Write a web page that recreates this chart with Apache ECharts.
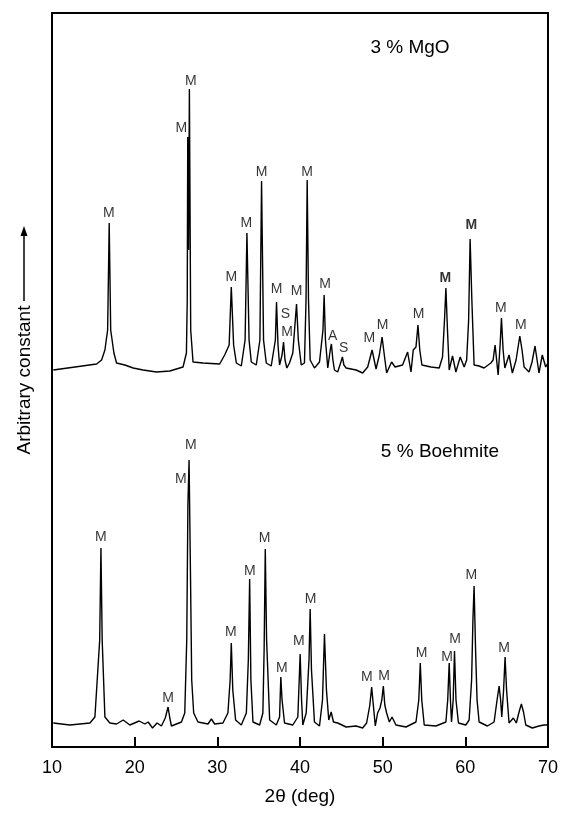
<!DOCTYPE html>
<html>
<head>
<meta charset="utf-8">
<script src="https://cdn.jsdelivr.net/npm/echarts@6/dist/echarts.min.js"></script>
<style>
html,body{margin:0;padding:0;background:#fff}
#chart{width:561px;height:813px}
</style>
</head>
<body>
<div id="chart"></div>
<script>
// 2theta (deg) vs. intensity (arbitrary, offset traces)
var mgoTrace = [[10.16,377],[15.40,383],[16.00,387],[16.40,397],[16.73,417],[16.92,524],[17.10,417],[17.49,394],[17.81,384],[18.81,382],[19.82,379],[21.02,377],[22.64,375],[24.25,376],[25.85,380],[26.26,394],[26.36,447],[26.42,610],[26.52,497],[26.62,658],[26.78,417],[27.06,385],[28.27,384],[30.28,383],[30.89,392],[31.43,402],[31.69,460],[31.97,402],[32.30,384],[32.90,381],[33.36,407],[33.58,514],[33.84,407],[34.11,385],[34.71,382],[35.15,407],[35.35,566],[35.59,407],[35.92,384],[36.52,381],[37.02,407],[37.16,445],[37.34,402],[37.53,382],[37.83,392],[38.01,405],[38.19,387],[38.41,379],[38.73,384],[39.13,394],[39.58,443],[39.80,407],[40.15,382],[40.54,384],[40.73,447],[40.87,567],[41.03,447],[41.23,387],[41.75,379],[42.36,385],[42.78,417],[42.92,452],[43.08,407],[43.36,379],[43.66,397],[43.80,403],[43.98,387],[44.17,377],[44.56,375],[44.95,385],[45.13,390],[45.31,382],[45.58,379],[46.79,377],[47.58,374],[48.19,380],[48.72,397],[49.20,378],[49.60,392],[49.93,410],[50.20,392],[50.48,374],[51.08,385],[51.50,380],[52.41,382],[53.02,395],[53.43,375],[53.70,397],[54.03,400],[54.27,422],[54.49,397],[54.75,382],[55.84,380],[56.84,379],[57.24,390],[57.48,427],[57.65,459],[57.84,417],[58.05,377],[58.45,391],[58.86,375],[59.38,390],[59.86,380],[60.16,387],[60.40,427],[60.58,508],[60.79,447],[61.06,382],[61.67,381],[62.27,379],[63.09,384],[63.36,387],[63.60,402],[63.97,372],[64.21,402],[64.37,429],[64.57,397],[64.78,379],[65.29,392],[65.69,374],[66.14,387],[66.59,411],[66.86,397],[67.11,380],[67.71,375],[68.07,385],[68.43,401],[68.91,374],[69.31,392],[69.72,380],[70.00,384]];

var boehmiteTrace = [[10.16,24],[12.17,22],[14.59,24],[15.19,30],[15.77,107],[15.92,199],[16.07,107],[16.40,30],[17.00,24],[17.81,23],[18.61,27],[19.42,22],[20.54,26],[21.23,23],[21.63,25],[22.16,19],[22.71,24],[23.24,21],[23.70,29],[24.04,40],[24.25,29],[24.45,21],[25.66,25],[26.06,34],[26.30,107],[26.44,242],[26.58,287],[26.76,167],[26.90,67],[27.14,34],[27.66,25],[28.87,23],[29.28,28],[29.68,23],[30.68,24],[31.28,34],[31.55,67],[31.69,104],[31.87,57],[32.21,27],[32.90,22],[33.51,34],[33.75,87],[33.91,168],[34.06,67],[34.31,25],[35.12,22],[35.51,34],[35.66,97],[35.80,198],[35.96,107],[36.33,27],[37.13,22],[37.53,30],[37.68,70],[37.83,47],[38.13,24],[39.13,22],[39.74,30],[40.02,93],[40.19,47],[40.34,22],[40.75,34],[41.09,87],[41.23,138],[41.39,77],[41.75,25],[42.36,21],[42.72,47],[42.96,113],[43.20,57],[43.48,27],[43.77,35],[44.05,25],[44.56,24],[45.58,20],[46.79,21],[47.58,19],[48.06,24],[48.45,42],[48.67,60],[48.87,42],[49.11,21],[49.39,34],[49.68,39],[49.90,47],[50.08,61],[50.26,42],[50.48,34],[50.81,25],[51.13,30],[51.61,22],[52.82,20],[54.03,25],[54.37,47],[54.55,84],[54.73,47],[55.03,22],[56.44,21],[57.65,25],[57.87,47],[58.05,84],[58.20,47],[58.33,25],[58.53,47],[58.69,96],[58.87,47],[59.17,24],[60.06,22],[60.46,27],[60.76,67],[60.92,127],[61.06,161],[61.24,97],[61.42,47],[61.67,25],[62.67,21],[63.48,25],[63.84,47],[64.09,61],[64.27,47],[64.41,30],[64.63,57],[64.81,90],[64.99,57],[65.29,24],[65.81,29],[66.17,24],[66.50,35],[66.78,43],[67.04,35],[67.31,22],[68.11,19],[68.91,21],[69.52,22],[70.00,22]];

// phase labels: [2theta, height, text]
var mgoPeakLabels = [[16.88,534,'M'],[26.78,666,'M'],[25.66,619,'M'],[31.69,470,'M'],[33.51,524,'M'],[35.35,575,'M'],[37.16,458,'M'],[38.25,433,'S'],[38.45,415,'M'],[39.58,456,'M'],[40.87,575,'M'],[43.04,463,'M'],[43.96,411,'A'],[45.29,399,'S'],[48.39,409,'M'],[50.00,422,'M'],[54.34,433,'M'],[64.29,439,'M'],[66.71,422,'M']];
var mgoBoldLabels = [[57.57,469,'M'],[60.74,522,'M']];
var boehmitePeakLabels = [[15.92,210,'M'],[24.04,49,'M'],[26.78,302,'M'],[25.57,268,'M'],[31.62,115,'M'],[33.93,176,'M'],[35.71,209,'M'],[37.80,79,'M'],[39.86,106,'M'],[41.27,148,'M'],[48.10,70,'M'],[50.16,71,'M'],[54.70,94,'M'],[57.78,90,'M'],[58.77,108,'M'],[60.74,172,'M'],[64.69,99,'M']];

var sampleNames = ['3 % MgO', '5 % Boehmite'];

var FONT = 'Liberation Sans, Arial, Helvetica, sans-serif';

function labelSeries(data, bold) {
    return {
        type: 'scatter',
        data: data,
        symbolSize: 1,
        itemStyle: {color: 'transparent'},
        silent: true,
        z: 5,
        label: {
            show: true,
            position: 'inside',
            color: '#000',
            fontFamily: FONT,
            fontSize: 14,
            fontWeight: bold ? 'bold' : 'normal',
            formatter: function (p) { return p.value[2]; }
        }
    };
}

function traceSeries(data) {
    return {
        type: 'line',
        data: data,
        showSymbol: false,
        symbol: 'none',
        silent: true,
        lineStyle: {color: '#000', width: 1.4},
        z: 3
    };
}

var chart = echarts.init(document.getElementById('chart'));
chart.setOption({
    animation: false,
    backgroundColor: '#fff',
    grid: {
        left: 52, right: 12, top: 13, bottom: 66,
        show: true, borderColor: '#000', borderWidth: 2
    },
    xAxis: {
        type: 'value',
        min: 10, max: 70, interval: 10,
        name: '2θ (deg)',
        nameLocation: 'middle',
        nameGap: 40,
        nameTextStyle: {fontFamily: FONT, fontSize: 19, color: '#000'},
        axisLine: {show: true, lineStyle: {color: '#000', width: 2}},
        axisTick: {show: true, inside: true, length: 10, lineStyle: {color: '#000', width: 2}},
        axisLabel: {fontFamily: FONT, fontSize: 18, color: '#000', margin: 12},
        splitLine: {show: false}
    },
    yAxis: {
        type: 'value',
        min: 0, max: 734,
        name: 'Arbitrary constant',
        nameLocation: 'middle',
        nameGap: 18,
        nameTextStyle: {fontFamily: FONT, fontSize: 19, color: '#000', padding: [0, 0, 0, 0]},
        axisLine: {show: true, lineStyle: {color: '#000', width: 2}},
        axisTick: {show: false},
        axisLabel: {show: false},
        splitLine: {show: false}
    },
    graphic: [
        {type: 'line', shape: {x1: 24, y1: 301, x2: 24, y2: 232}, style: {stroke: '#000', lineWidth: 1.5}},
        {type: 'polygon', shape: {points: [[24, 226], [20.5, 236], [27.5, 236]]}, style: {fill: '#000'}},
        {type: 'text', x: 410, y: 48, style: {text: sampleNames[0], font: '19px ' + FONT, fill: '#000', align: 'center', verticalAlign: 'middle', textAlign: 'center', textVerticalAlign: 'middle'}},
        {type: 'text', x: 440, y: 452, style: {text: sampleNames[1], font: '19px ' + FONT, fill: '#000', align: 'center', verticalAlign: 'middle', textAlign: 'center', textVerticalAlign: 'middle'}}
    ],
    series: [
        traceSeries(mgoTrace),
        traceSeries(boehmiteTrace),
        labelSeries(mgoPeakLabels, false),
        labelSeries(mgoBoldLabels, true),
        labelSeries(boehmitePeakLabels, false)
    ]
});
</script>
</body>
</html>
